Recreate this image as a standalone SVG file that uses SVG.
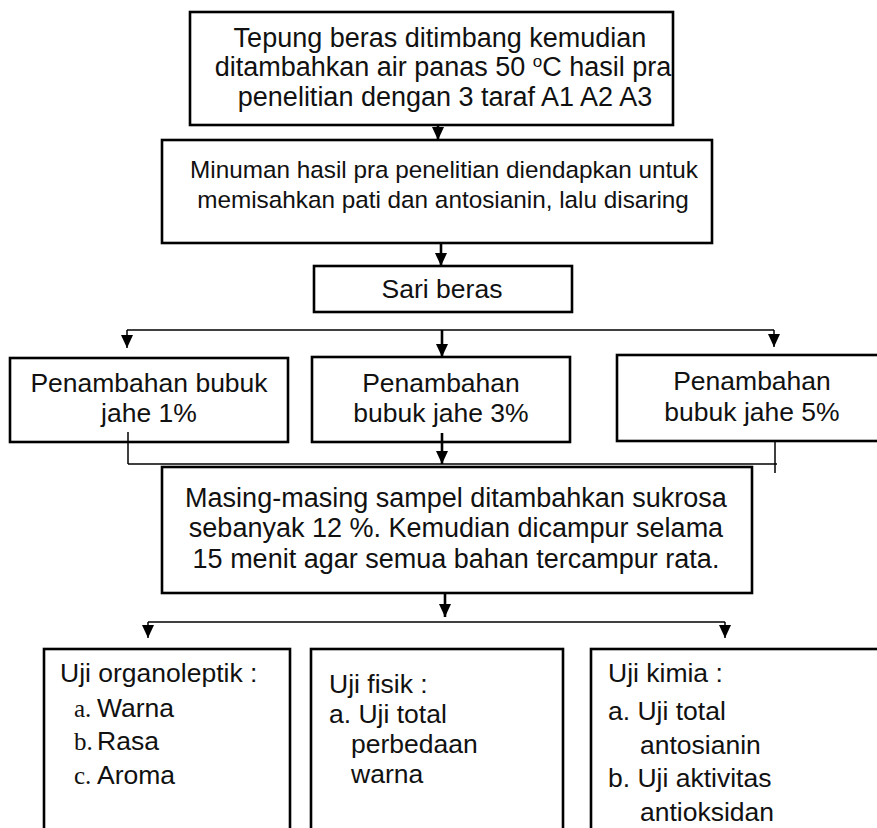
<svg xmlns="http://www.w3.org/2000/svg" width="877" height="828" viewBox="0 0 877 828">
<style>
.box{fill:#fff;stroke:#000;stroke-width:2.6}
.t{font-family:"Liberation Sans",Arial,sans-serif;fill:#111}
.c{text-anchor:middle}
.s{font-family:"Liberation Serif","Times New Roman",serif;fill:#111}
.thin{stroke:#000;stroke-width:1.5;fill:none}
.thick{stroke:#000;stroke-width:2.6;fill:none}
</style>
<defs>
<marker id="ah" markerUnits="userSpaceOnUse" markerWidth="13" markerHeight="12" refX="13" refY="6" orient="auto">
<path d="M0,0 L13,6 L0,12 z" fill="#000"/>
</marker>
</defs>
<rect width="877" height="828" fill="#fff"/>
<g id="n1">
<rect class="box" x="190" y="12" width="483" height="113"/>
<text class="t c" font-size="27"><tspan x="440" y="47">Tepung beras ditimbang kemudian</tspan><tspan x="443" y="76">ditambahkan air panas 50 <tspan font-size="17" dy="-9">o</tspan><tspan dy="9">C hasil pra</tspan></tspan><tspan x="445" y="106">penelitian dengan 3 taraf A1 A2 A3</tspan></text>
</g>
<g id="n2">
<rect class="box" x="162" y="140" width="550" height="103"/>
<text class="t c" font-size="24.3"><tspan x="444" y="178">Minuman hasil pra penelitian diendapkan untuk</tspan><tspan x="443" y="208">memisahkan pati dan antosianin, lalu disaring</tspan></text>
</g>
<g id="n3">
<rect class="box" x="314" y="266" width="258" height="46"/>
<text class="t c" font-size="26.5" x="442" y="298">Sari beras</text>
</g>
<g id="n4">
<rect class="box" x="10" y="358" width="278" height="84"/>
<text class="t c" font-size="26.5"><tspan x="149" y="392">Penambahan bubuk</tspan><tspan x="149" y="422">jahe 1%</tspan></text>
</g>
<g id="n5">
<rect class="box" x="312" y="357" width="258" height="85"/>
<text class="t c" font-size="26.5"><tspan x="441" y="392">Penambahan</tspan><tspan x="441" y="422">bubuk jahe 3%</tspan></text>
</g>
<g id="n6">
<rect class="box" x="617" y="355" width="280" height="86"/>
<text class="t c" font-size="26.5"><tspan x="752" y="390">Penambahan</tspan><tspan x="752" y="421">bubuk jahe 5%</tspan></text>
</g>
<g id="n7">
<rect class="box" x="162" y="467" width="590" height="126"/>
<text class="t c" font-size="27"><tspan x="456" y="507">Masing-masing sampel ditambahkan sukrosa</tspan><tspan x="456" y="537">sebanyak 12 %. Kemudian dicampur selama</tspan><tspan x="456" y="568">15 menit agar semua bahan tercampur rata.</tspan></text>
</g>
<g id="n8">
<rect class="box" x="44" y="649" width="246" height="195"/>
<text class="t" font-size="26.5" x="60" y="682">Uji organoleptik :</text>
<text class="s" font-size="25" x="74" y="717">a.</text>
<text class="t" font-size="26.5" x="97" y="717">Warna</text>
<text class="s" font-size="25" x="74" y="750">b.</text>
<text class="t" font-size="26.5" x="97" y="750">Rasa</text>
<text class="s" font-size="25" x="74" y="784">c.</text>
<text class="t" font-size="26.5" x="97" y="784">Aroma</text>
</g>
<g id="n9">
<rect class="box" x="311" y="649" width="252" height="195"/>
<text class="t" font-size="26.5"><tspan x="329" y="693">Uji fisik :</tspan><tspan x="329" y="723">a. Uji total</tspan><tspan x="351" y="753">perbedaan</tspan><tspan x="351" y="783">warna</tspan></text>
</g>
<g id="n10">
<rect class="box" x="591" y="649" width="300" height="195"/>
<text class="t" font-size="26.5"><tspan x="608" y="682">Uji kimia :</tspan><tspan x="608" y="720">a. Uji total</tspan><tspan x="640" y="754">antosianin</tspan><tspan x="608" y="787">b. Uji aktivitas</tspan><tspan x="640" y="821">antioksidan</tspan></text>
</g>
<g id="connectors">
<line class="thick" x1="438" y1="125" x2="438" y2="140" marker-end="url(#ah)"/>
<line class="thick" x1="441" y1="243" x2="441" y2="266" marker-end="url(#ah)"/>
<line class="thin" x1="127" y1="330" x2="774" y2="330"/>
<line class="thin" x1="127" y1="330" x2="127" y2="348" marker-end="url(#ah)"/>
<line class="thick" x1="442" y1="330" x2="442" y2="357" marker-end="url(#ah)"/>
<line class="thin" x1="774" y1="330" x2="774" y2="347" marker-end="url(#ah)"/>
<line class="thin" x1="128" y1="432" x2="128" y2="464"/>
<line class="thin" x1="128" y1="464" x2="777" y2="464"/>
<line class="thin" x1="775" y1="441" x2="775" y2="473"/>
<line class="thick" x1="442" y1="433" x2="442" y2="464" marker-end="url(#ah)"/>
<line class="thick" x1="445" y1="593" x2="445" y2="617" marker-end="url(#ah)"/>
<line class="thin" x1="148" y1="622" x2="725" y2="622"/>
<line class="thin" x1="148" y1="622" x2="148" y2="638" marker-end="url(#ah)"/>
<line class="thin" x1="725" y1="622" x2="725" y2="638" marker-end="url(#ah)"/>
</g>
</svg>
